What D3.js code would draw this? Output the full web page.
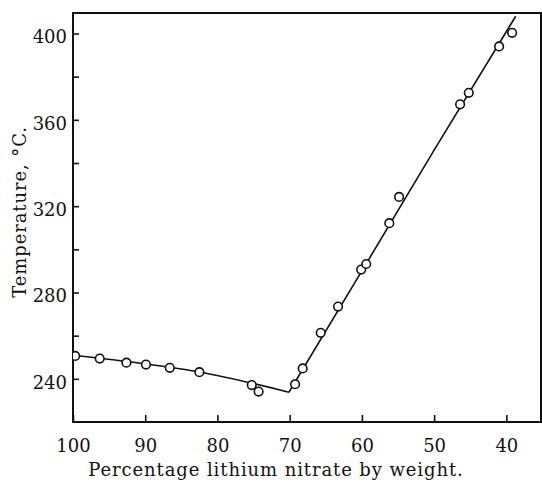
<!DOCTYPE html>
<html>
<head>
<meta charset="utf-8">
<script src="https://cdn.jsdelivr.net/npm/d3@7"></script>
<style>
  body { margin: 0; background: #fff; }
  svg { display: block; }
  .tick text { font-family: "DejaVu Serif", serif; font-size: 18px; fill: #111; }
  .axisText { font-family: "DejaVu Serif", serif; font-size: 18px; fill: #111; letter-spacing: 0.9px; }
</style>
</head>
<body>
<div class="chart"></div>
<script>
// measured points (percent LiNO3, temperature)
var pointPct = [99.7, 96.3, 92.6, 89.9, 86.6, 82.5, 75.25, 74.3, 69.25, 68.2,
                65.7, 63.3, 60.1, 59.4, 56.2, 54.85, 46.4, 45.2, 41.0, 39.2];
var pointTemp = [250.6, 249.4, 247.5, 246.6, 245.1, 243.1, 237.1, 234.1, 237.5, 244.8,
                 261.3, 273.5, 290.6, 293.2, 312.1, 324.3, 367.2, 372.5, 394.0, 400.3];

// drawn curve, LiNO3 branch and the other branch
var lowPct = [100, 90, 82.5, 70.1];
var lowTemp = [250.9, 246.9, 243.2, 233.8];
var highPct = [70.1, 60, 50, 38.7];
var highTemp = [233.8, 290, 346, 408];

var xTicks = [100, 90, 80, 70, 60, 50, 40];
var yTicks = [240, 260, 280, 300, 320, 340, 360, 380, 400];
var yLabels = [240, 280, 320, 360, 400];

var svgWidth = 542, svgHeight = 484;
var plotLeft = 73, plotRight = 541, plotTop = 13, plotBottom = 422;

var svg = d3.select(".chart").append("svg")
    .attr("width", svgWidth)
    .attr("height", svgHeight);

var x = d3.scaleLinear().domain([100, 35.2]).range([plotLeft, plotRight]);
var y = d3.scaleLinear().domain([220, 409.5]).range([plotBottom, plotTop]);

svg.append("clipPath").attr("id", "plot")
  .append("rect")
    .attr("x", plotLeft).attr("y", plotTop)
    .attr("width", plotRight - plotLeft).attr("height", plotBottom - plotTop);

// x axis, ticks pointing in
var bottomAxis = d3.axisBottom(x).tickValues(xTicks).tickSize(-7).tickPadding(17);
var gx = svg.append("g")
    .attr("transform", "translate(0," + plotBottom + ")")
    .call(bottomAxis);
gx.select(".domain").remove();

// y axis
var leftAxis = d3.axisLeft(y).tickValues(yTicks).tickSize(-6).tickPadding(6)
    .tickFormat(function(d) { return yLabels.indexOf(d) >= 0 ? d : ""; });
var gy = svg.append("g")
    .attr("transform", "translate(" + plotLeft + ",0)")
    .call(leftAxis);
gy.select(".domain").remove();
gy.selectAll("text").attr("dy", "0.52em");

svg.selectAll(".tick line").attr("stroke", "#111").attr("stroke-width", 1.6);
svg.selectAll(".tick text").attr("fill", null);
gx.attr("font-family", null).attr("font-size", null);
gy.attr("font-family", null).attr("font-size", null);

// frame
svg.append("rect")
    .attr("x", plotLeft).attr("y", plotTop)
    .attr("width", plotRight - plotLeft).attr("height", plotBottom - plotTop)
    .attr("fill", "none")
    .attr("stroke", "#111")
    .attr("stroke-width", 2);

var line = d3.line()
    .x(function(d) { return x(d[0]); })
    .y(function(d) { return y(d[1]); });

var chart = svg.append("g").attr("clip-path", "url(#plot)");

chart.append("path")
    .datum(d3.zip(lowPct, lowTemp))
    .attr("d", line.curve(d3.curveMonotoneX))
    .attr("fill", "none").attr("stroke", "#111").attr("stroke-width", 1.6);

chart.append("path")
    .datum(d3.zip(highPct, highTemp))
    .attr("d", line.curve(d3.curveLinear))
    .attr("fill", "none").attr("stroke", "#111").attr("stroke-width", 1.6);

chart.selectAll("circle")
    .data(d3.zip(pointPct, pointTemp))
    .enter().append("circle")
    .attr("cx", function(d) { return x(d[0]); })
    .attr("cy", function(d) { return y(d[1]); })
    .attr("r", 4.3)
    .attr("fill", "#fff")
    .attr("stroke", "#111")
    .attr("stroke-width", 1.6);

// axis titles
svg.append("text")
    .attr("class", "axisText")
    .attr("x", 276)
    .attr("y", 476)
    .attr("text-anchor", "middle")
    .text("Percentage lithium nitrate by weight.");

svg.append("text")
    .attr("class", "axisText")
    .attr("transform", "translate(26,212) rotate(-90)")
    .attr("text-anchor", "middle")
    .text("Temperature, °C.");
</script>
</body>
</html>
